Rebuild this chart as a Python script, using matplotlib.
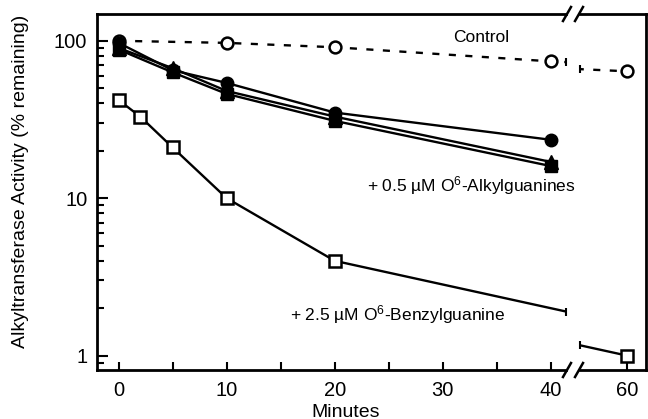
import numpy as np
import matplotlib
matplotlib.use("Agg")
from matplotlib import pyplot as plt

plt.rcParams['font.family'] = ['Liberation Sans', 'DejaVu Sans']
plt.rcParams['mathtext.fontset'] = 'custom'
plt.rcParams['mathtext.rm'] = 'Liberation Sans'
plt.rcParams['mathtext.it'] = 'Liberation Sans'

# data (minutes, % remaining)
t_control = [0, 10, 20, 40, 60]
control = [100, 97, 91, 74, 64]

t_alkyl = [0, 5, 10, 20, 40]
alkyl_circle = [97, 65, 54, 35, 23.5]
alkyl_triangle = [90, 67, 48, 33, 17]
alkyl_square = [88, 63, 46, 31, 16]

t_benzyl = [0, 2, 5, 10, 20, 60]
benzyl = [42, 33, 21, 10, 4, 1.0]

fig = plt.figure(figsize=(6.48, 4.19), dpi=100)
ax1 = fig.add_axes([97/648, 49/419, (566-97)/648, 356/419])
ax2 = fig.add_axes([580/648, 49/419, (646-580)/648, 356/419], sharey=ax1)

lw = 1.7
for ax in (ax1, ax2):
    ax.plot(t_control, control, 'k', ls=(0, (3, 4)), lw=lw, marker='o',
            ms=8.5, mfc='white', mew=1.8)
    ax.plot(t_benzyl, benzyl, 'k-', lw=lw, marker='s', ms=9,
            mfc='white', mew=1.8)
    ax.plot(t_alkyl, alkyl_triangle, 'k-', lw=lw, marker='^', ms=10)
    ax.plot(t_alkyl, alkyl_square, 'k-', lw=lw, marker='s', ms=8.5)
    ax.plot(t_alkyl, alkyl_circle, 'k-', lw=lw, marker='o', ms=9)
    ax.set_yscale('log')
    for s in ax.spines.values():
        s.set_linewidth(2)
    ax.tick_params(direction='in', which='both', width=1.5, labelsize=14.5)

ax1.set_xlim(-2, 41.4)
ax2.set_xlim(55.65, 61.76)
ax1.set_ylim(0.81, 148)

# small end caps where the 40-60 segments meet the break
for ax, edge in ((ax1, 41.4), (ax2, 55.65)):
    for tx, ty in ((t_control[-2:], control[-2:]), (t_benzyl[-2:], benzyl[-2:])):
        yv = 10 ** np.interp(edge, tx, np.log10(ty))
        ax.plot([edge], [yv], 'k', marker='|', ms=6, mew=1.5, clip_on=False)

ax1.spines['right'].set_visible(False)
ax2.spines['left'].set_visible(False)
ax1.set_xticks([0, 10, 20, 30, 40])
ax1.set_xticks([5, 15, 25, 35], minor=True)
ax1.tick_params(axis='x', which='both', length=6, pad=8)
ax1.tick_params(axis='y', which='major', length=8, pad=7)
ax1.tick_params(axis='y', which='minor', length=5)
ax1.set_yticks([1, 10, 100])
ax1.set_yticklabels(['1', '10', '100'])
ax2.set_xticks([60])
ax2.tick_params(axis='x', length=6, pad=8)
ax2.tick_params(axis='y', which='both', left=False, labelleft=False)

# break marks on the axis lines
for yf in (49/419, 405/419):
    for xp in (567, 579):
        fig.add_artist(plt.Line2D([(xp-4)/648, (xp+4)/648],
                                  [yf-7/419, yf+7/419],
                                  color='k', lw=1.8))

ax1.set_ylabel('Alkyltransferase Activity (% remaining)', fontsize=14)
ax1.yaxis.set_label_coords(-0.145, 0.53)
fig.text(346/648, 1-412/419, 'Minutes', ha='center', va='center', fontsize=14)

fig.text(481/648, 1-37/419, 'Control', ha='center', va='center', fontsize=12.5)
fig.text(367/648, 1-186/419, '+ 0.5 \u00b5M O$^6$-Alkylguanines',
         ha='left', va='center', fontsize=12.5)
fig.text(290/648, 1-315/419, '+ 2.5 \u00b5M O$^6$-Benzylguanine',
         ha='left', va='center', fontsize=12.5)

fig.savefig('out.png', dpi=100)
